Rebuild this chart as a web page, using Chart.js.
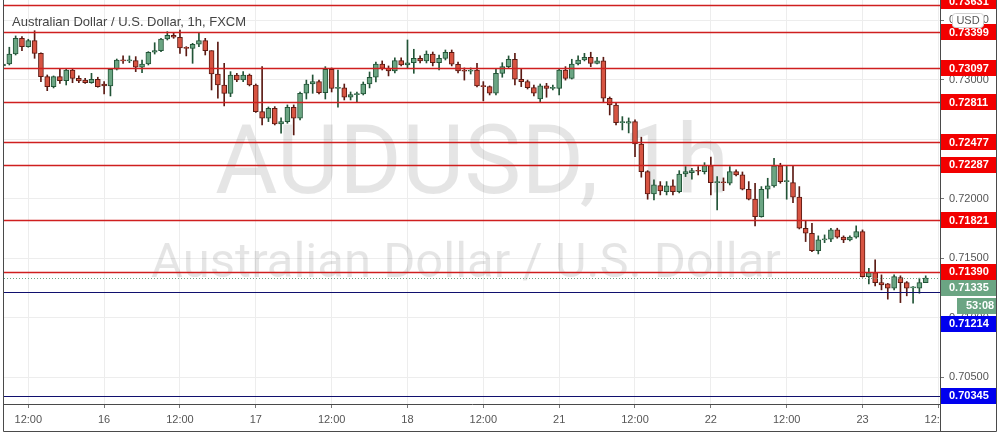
<!DOCTYPE html>
<html>
<head>
<meta charset="utf-8">
<script src="https://cdn.jsdelivr.net/npm/chart.js@4/dist/chart.umd.min.js"></script>
<style>
  html, body { margin: 0; padding: 0; background: #fff; overflow: hidden; }
</style>
</head>
<body>
<canvas id="chart" width="1003" height="436"></canvas>
<script>
//--- AUDUSD 1h candles, 15th 08:00 -> 23rd 10:00 (one entry per hour).
const opens = [
  0.73118, 0.73134, 0.73218, 0.73350, 0.73280, 0.73330, 0.73224, 0.73028, 0.72944, 0.73028,
  0.72994, 0.73084, 0.73014, 0.72999, 0.72977, 0.73006, 0.72966, 0.72950, 0.73090, 0.73165,
  0.73160, 0.73162, 0.73107, 0.73134, 0.73233, 0.73246, 0.73344, 0.73375, 0.73359, 0.73269,
  0.73265, 0.73300, 0.73330, 0.73246, 0.73050, 0.72958, 0.72887, 0.73042, 0.73000, 0.73042,
  0.72958, 0.72734, 0.72678, 0.72762, 0.72630, 0.72650, 0.72771, 0.72678, 0.72888, 0.72966,
  0.72986, 0.72893, 0.73090, 0.72930, 0.72933, 0.72855, 0.72877, 0.72882, 0.72966, 0.73023,
  0.73134, 0.73098, 0.73076, 0.73162, 0.73126, 0.73145, 0.73182, 0.73160, 0.73218, 0.73145,
  0.73182, 0.73233, 0.73132, 0.73076, 0.73073, 0.73084, 0.72950, 0.72944, 0.72888, 0.73056,
  0.73112, 0.73174, 0.73006, 0.72986, 0.72935, 0.72840, 0.72950, 0.72930, 0.72930, 0.73084,
  0.73014, 0.73134, 0.73168, 0.73191, 0.73140, 0.73160, 0.72846, 0.72790, 0.72641, 0.72636,
  0.72650, 0.72462, 0.72230, 0.72042, 0.72112, 0.72062, 0.72110, 0.72062, 0.72210, 0.72221,
  0.72236, 0.72230, 0.72280, 0.72137, 0.72137, 0.72132, 0.72230, 0.72202, 0.72082, 0.71998,
  0.71852, 0.72082, 0.72110, 0.72278, 0.72146, 0.72137, 0.72015, 0.71754, 0.71712, 0.71566,
  0.71656, 0.71662, 0.71740, 0.71679, 0.71656, 0.71679, 0.71726, 0.71348, 0.71381, 0.71297,
  0.71286, 0.71250, 0.71339, 0.71297, 0.71253, 0.71250, 0.71297
];
const highs = [
  0.73151, 0.73275, 0.73370, 0.73364, 0.73342, 0.73414, 0.73227, 0.73042, 0.73034, 0.73090,
  0.73090, 0.73090, 0.73034, 0.73014, 0.73056, 0.73023, 0.72986, 0.73098, 0.73176, 0.73202,
  0.73202, 0.73196, 0.73168, 0.73238, 0.73313, 0.73350, 0.73406, 0.73397, 0.73420, 0.73280,
  0.73308, 0.73392, 0.73350, 0.73246, 0.73319, 0.73140, 0.73070, 0.73056, 0.73070, 0.73050,
  0.72966, 0.73112, 0.72773, 0.72776, 0.72681, 0.72790, 0.72790, 0.72899, 0.72999, 0.73042,
  0.72999, 0.73112, 0.73101, 0.73084, 0.72966, 0.72899, 0.72899, 0.72983, 0.73067, 0.73151,
  0.73160, 0.73118, 0.73185, 0.73185, 0.73336, 0.73258, 0.73202, 0.73244, 0.73235, 0.73210,
  0.73252, 0.73252, 0.73151, 0.73101, 0.73101, 0.73140, 0.72986, 0.72950, 0.73098, 0.73145,
  0.73202, 0.73224, 0.73090, 0.72999, 0.72958, 0.72966, 0.72972, 0.72958, 0.73098, 0.73112,
  0.73174, 0.73202, 0.73224, 0.73233, 0.73191, 0.73191, 0.72857, 0.72807, 0.72692, 0.72681,
  0.72664, 0.72519, 0.72238, 0.72160, 0.72146, 0.72146, 0.72160, 0.72238, 0.72272, 0.72258,
  0.72272, 0.72305, 0.72351, 0.72188, 0.72177, 0.72272, 0.72244, 0.72227, 0.72146, 0.72132,
  0.72104, 0.72174, 0.72342, 0.72300, 0.72278, 0.72278, 0.72104, 0.71818, 0.71796, 0.71690,
  0.71698, 0.71754, 0.71754, 0.71690, 0.71690, 0.71774, 0.71740, 0.71418, 0.71488, 0.71362,
  0.71290, 0.71362, 0.71354, 0.71306, 0.71264, 0.71334, 0.71354
];
const lows = [
  0.73101, 0.73126, 0.73210, 0.73246, 0.73275, 0.73182, 0.72986, 0.72910, 0.72933, 0.72972,
  0.72958, 0.72977, 0.72977, 0.72972, 0.72972, 0.72939, 0.72882, 0.72866, 0.73084, 0.73140,
  0.73145, 0.73070, 0.73061, 0.73126, 0.73218, 0.73238, 0.73336, 0.73350, 0.73224, 0.73202,
  0.73140, 0.73280, 0.73210, 0.72916, 0.72846, 0.72782, 0.72860, 0.72986, 0.72986, 0.72950,
  0.72727, 0.72622, 0.72650, 0.72622, 0.72552, 0.72636, 0.72538, 0.72664, 0.72840, 0.72888,
  0.72882, 0.72840, 0.72899, 0.72771, 0.72832, 0.72832, 0.72809, 0.72874, 0.72933, 0.72983,
  0.73084, 0.73034, 0.73059, 0.73118, 0.73101, 0.73056, 0.73143, 0.73143, 0.73118, 0.73084,
  0.73168, 0.73118, 0.73059, 0.72999, 0.73050, 0.72941, 0.72824, 0.72874, 0.72874, 0.73023,
  0.73101, 0.72958, 0.72944, 0.72924, 0.72866, 0.72818, 0.72855, 0.72916, 0.72874, 0.72999,
  0.73008, 0.73126, 0.73160, 0.73112, 0.73134, 0.72818, 0.72706, 0.72622, 0.72580, 0.72555,
  0.72356, 0.72183, 0.71998, 0.71992, 0.72034, 0.72034, 0.72034, 0.72051, 0.72188, 0.72166,
  0.72202, 0.72210, 0.72034, 0.71908, 0.72070, 0.72118, 0.72194, 0.72076, 0.71992, 0.71774,
  0.71847, 0.72006, 0.72099, 0.72132, 0.71998, 0.71969, 0.71748, 0.71642, 0.71558, 0.71538,
  0.71633, 0.71642, 0.71670, 0.71633, 0.71648, 0.71670, 0.71343, 0.71286, 0.71270, 0.71236,
  0.71158, 0.71236, 0.71129, 0.71186, 0.71124, 0.71208, 0.71297
];
const closes = [
  0.73134, 0.73218, 0.73350, 0.73280, 0.73330, 0.73224, 0.73028, 0.72944, 0.73028, 0.72994,
  0.73084, 0.73014, 0.72992, 0.72977, 0.73006, 0.72944, 0.72950, 0.73090, 0.73168, 0.73160,
  0.73162, 0.73107, 0.73134, 0.73233, 0.73246, 0.73344, 0.73375, 0.73359, 0.73269, 0.73265,
  0.73300, 0.73330, 0.73246, 0.73050, 0.72958, 0.72887, 0.73042, 0.73000, 0.73042, 0.72958,
  0.72734, 0.72678, 0.72762, 0.72630, 0.72650, 0.72771, 0.72678, 0.72888, 0.72966, 0.72986,
  0.72893, 0.73090, 0.72930, 0.72933, 0.72855, 0.72877, 0.72882, 0.72966, 0.73023, 0.73134,
  0.73098, 0.73076, 0.73162, 0.73126, 0.73145, 0.73182, 0.73160, 0.73218, 0.73145, 0.73182,
  0.73233, 0.73132, 0.73076, 0.73073, 0.73084, 0.72950, 0.72944, 0.72888, 0.73056, 0.73112,
  0.73174, 0.73006, 0.72986, 0.72935, 0.72888, 0.72950, 0.72930, 0.72933, 0.73084, 0.73014,
  0.73134, 0.73168, 0.73191, 0.73140, 0.73160, 0.72846, 0.72790, 0.72641, 0.72645, 0.72650,
  0.72462, 0.72230, 0.72042, 0.72118, 0.72068, 0.72110, 0.72062, 0.72210, 0.72230, 0.72238,
  0.72233, 0.72280, 0.72137, 0.72141, 0.72136, 0.72230, 0.72202, 0.72082, 0.71998, 0.71852,
  0.72082, 0.72110, 0.72278, 0.72146, 0.72149, 0.72015, 0.71754, 0.71712, 0.71566, 0.71656,
  0.71662, 0.71740, 0.71679, 0.71656, 0.71679, 0.71726, 0.71348, 0.71381, 0.71297, 0.71278,
  0.71250, 0.71348, 0.71297, 0.71250, 0.71257, 0.71297, 0.71335
];

// x axis: days shown (weekend skipped), first candle hour of day 15
const dayLabels = ['15', '16', '17', '18', '21', '22', '23'];
const firstHour = 8;

// drawn levels
const redLevels = [0.73631, 0.73399, 0.73097, 0.72811, 0.72477, 0.72287, 0.71821, 0.71390];
const blueLevels = [0.71214, 0.70345];
const lastPrice = 0.71335;
const countdown = '53:08';

const titleText = 'Australian Dollar / U.S. Dollar, 1h, FXCM';
const watermark = ['AUDUSD, 1h', 'Australian Dollar / U.S. Dollar'];

const UP = '#6ba583';
const DOWN = '#d75442';
const UP_DARK = '#225437';
const DOWN_DARK = '#5b1a13';
const FONT = '"Liberation Sans", Arial, sans-serif';

const isUp = opens.map((o, i) => closes[i] >= o);
const bodies = opens.map((o, i) => ({ x: i, y: [o, closes[i]] }));
const wicks = lows.map((l, i) => ({ x: i, y: [l, highs[i]] }));

// x ticks every 12 hours
const tickIdx = [];
for (let i = 0; i < opens.length + 2; i++) {
  if ((i + firstHour) % 12 === 0) tickIdx.push(i);
}

function priceTag(ctx, y, text, bg, x0) {
  ctx.fillStyle = bg;
  ctx.fillRect(x0, Math.round(y - 8), 996 - x0, 16);
  ctx.fillStyle = '#fff';
  ctx.font = 'bold 11px ' + FONT;
  ctx.textAlign = 'left';
  ctx.textBaseline = 'middle';
  ctx.fillText(text, x0 + 9, y + 0.5);
}

function noPadding(scale) {
  scale.paddingTop = 0;
  scale.paddingBottom = 0;
  scale.paddingLeft = 0;
  scale.paddingRight = 0;
}

const tvOverlay = {
  id: 'tvOverlay',
  beforeDatasetsDraw(chart) {
    const { ctx, chartArea } = chart;
    const cx = (chartArea.left + chartArea.right) / 2;
    ctx.save();
    ctx.fillStyle = 'rgba(0, 0, 0, 0.1)';
    ctx.textAlign = 'center';
    ctx.textBaseline = 'alphabetic';
    ctx.font = '96px Roboto, sans-serif';
    ctx.fillText(watermark[0], cx, 193);
    ctx.font = '49px Roboto, sans-serif';
    ctx.fillText(watermark[1], cx - 6, 277);
    ctx.restore();
  },
  afterDatasetsDraw(chart) {
    const { ctx, chartArea, scales } = chart;
    ctx.save();
    ctx.beginPath();
    ctx.rect(chartArea.left, chartArea.top, chartArea.right - chartArea.left, chartArea.bottom - chartArea.top);
    ctx.clip();
    ctx.lineWidth = 1.3;
    ctx.strokeStyle = '#cf1f1f';
    redLevels.forEach(p => {
      const y = Math.round(scales.y.getPixelForValue(p)) + 0.5;
      ctx.beginPath();
      ctx.moveTo(chartArea.left, y);
      ctx.lineTo(chartArea.right, y);
      ctx.stroke();
    });
    ctx.lineWidth = 1.2;
    ctx.strokeStyle = '#10106e';
    blueLevels.forEach(p => {
      const y = Math.round(scales.y.getPixelForValue(p)) + 0.5;
      ctx.beginPath();
      ctx.moveTo(chartArea.left, y);
      ctx.lineTo(chartArea.right, y);
      ctx.stroke();
    });
    // last price dotted line
    const yl = Math.round(scales.y.getPixelForValue(lastPrice)) + 0.5;
    ctx.setLineDash([1, 2]);
    ctx.lineWidth = 1;
    ctx.strokeStyle = UP;
    ctx.beginPath();
    ctx.moveTo(chartArea.left, yl);
    ctx.lineTo(chartArea.right, yl);
    ctx.stroke();
    ctx.restore();
  },
  afterDraw(chart) {
    const { ctx, chartArea, scales } = chart;
    const axisX = chartArea.right;
    const usdTop = 13;
    ctx.save();

    // empty corner under the price scale clips the last time label
    ctx.fillStyle = '#fff';
    ctx.fillRect(axisX + 1, chartArea.bottom + 1, 996 - axisX - 1, 431 - chartArea.bottom - 1);

    // price tags, pushed apart where they would overlap
    const tags = [];
    redLevels.forEach(p => tags.push({ y: scales.y.getPixelForValue(p), text: p.toFixed(5), bg: '#f20000' }));
    blueLevels.forEach(p => tags.push({ y: scales.y.getPixelForValue(p), text: p.toFixed(5), bg: '#0000ee' }));
    tags.push({ y: scales.y.getPixelForValue(lastPrice), text: lastPrice.toFixed(5), bg: UP, last: true });
    tags.sort((a, b) => a.y - b.y);
    let prev = -100;
    tags.forEach(t => {
      if (t.y < usdTop) t.y = Math.min(t.y, usdTop - 12);
      t.y = Math.max(t.y, prev + 16);
      prev = t.y;
      if (t.last) {
        t.cy = t.y + 18;
        prev = t.cy + 2;
      }
    });
    tags.forEach(t => {
      priceTag(ctx, t.y, t.text, t.bg, axisX);
      if (t.last) priceTag(ctx, t.cy, countdown, UP, axisX + 17);
    });

    // currency box
    ctx.fillStyle = '#fff';
    ctx.strokeStyle = '#d0d0d0';
    ctx.lineWidth = 1;
    ctx.beginPath();
    ctx.roundRect(952.5, usdTop + 0.5, 31, 14, 3);
    ctx.fill();
    ctx.stroke();
    ctx.fillStyle = '#555';
    ctx.font = '11px ' + FONT;
    ctx.textAlign = 'center';
    ctx.textBaseline = 'middle';
    ctx.fillText('USD', 968, usdTop + 8);

    // title
    ctx.fillStyle = '#444';
    ctx.font = '13px ' + FONT;
    ctx.textAlign = 'left';
    ctx.textBaseline = 'alphabetic';
    ctx.fillText(titleText, 12, 26);

    // frame
    ctx.strokeStyle = '#4a4a4a';
    ctx.lineWidth = 1;
    ctx.beginPath();
    ctx.moveTo(3.5, 0);
    ctx.lineTo(3.5, 431.5);
    ctx.lineTo(996.5, 431.5);
    ctx.lineTo(996.5, 0);
    ctx.moveTo(axisX + 0.5, 0);
    ctx.lineTo(axisX + 0.5, 431.5);
    ctx.stroke();
    ctx.restore();
  }
};

new Chart(document.getElementById('chart'), {
  type: 'bar',
  data: {
    datasets: [
      {
        label: 'wick',
        data: wicks,
        order: 2,
        grouped: false,
        barThickness: 1,
        backgroundColor: isUp.map(u => u ? UP_DARK : DOWN_DARK),
        borderWidth: 0
      },
      {
        label: 'body',
        data: bodies,
        order: 1,
        grouped: false,
        barThickness: 5,
        minBarLength: 1,
        backgroundColor: isUp.map(u => u ? UP : DOWN),
        borderColor: isUp.map(u => u ? UP_DARK : DOWN_DARK),
        borderWidth: 1,
        borderSkipped: false
      }
    ]
  },
  options: {
    responsive: false,
    animation: false,
    devicePixelRatio: 1,
    layout: { padding: { left: 4, right: 6, top: 0, bottom: 5 } },
    plugins: {
      legend: { display: false },
      tooltip: { enabled: false }
    },
    scales: {
      x: {
        type: 'linear',
        min: 0.158,
        max: 148.26,
        offset: false,
        afterBuildTicks(scale) {
          scale.ticks = tickIdx.map(v => ({ value: v }));
        },
        afterFit(scale) {
          scale.height = 27;
          noPadding(scale);
        },
        grid: { offset: false, color: '#ededed', tickColor: '#777', tickLength: 4 },
        border: { color: '#4a4a4a' },
        ticks: {
          autoSkip: false,
          maxRotation: 0,
          padding: 5,
          color: '#555',
          font: { family: FONT, size: 11 },
          callback(v) {
            const t = v + firstHour;
            if (t % 24 === 0) return dayLabels[t / 24];
            return '12:00';
          }
        }
      },
      y: {
        position: 'right',
        min: 0.70277,
        max: 0.73672,
        afterFit(scale) {
          scale.width = 57;
          noPadding(scale);
        },
        grid: { color: '#ededed', tickColor: '#777', tickLength: 4 },
        border: { color: '#4a4a4a' },
        ticks: {
          stepSize: 0.005,
          includeBounds: false,
          padding: 5,
          color: '#555',
          font: { family: FONT, size: 11 },
          callback: v => v.toFixed(5)
        }
      }
    }
  },
  plugins: [tvOverlay]
});
</script>
</body>
</html>
